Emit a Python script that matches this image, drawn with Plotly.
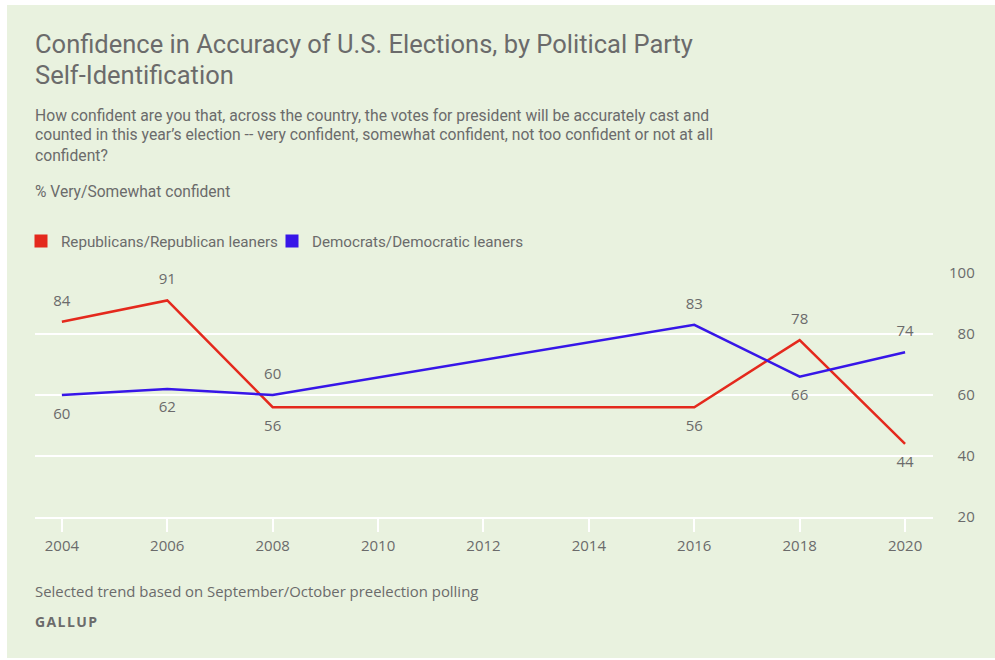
import plotly.graph_objects as go

# Survey years and share "very/somewhat confident" (%) by party
years = [2004, 2006, 2008, 2016, 2018, 2020]
republicans = [84, 91, 56, 56, 78, 44]
democrats = [60, 62, 60, 83, 66, 74]

rep_label_pos = ["top center", "top center", "bottom center", "bottom center", "top center", "bottom center"]
dem_label_pos = ["bottom center", "bottom center", "top center", "top center", "bottom center", "top center"]

x_ticks = list(range(2004, 2021, 2))
y_ticks = [20, 40, 60, 80, 100]
y_tick_text = ["\u200720", "\u200740", "\u200760", "\u200780", "100"]

series_names = ["Republicans/Republican leaners", "Democrats/Democratic leaners"]

RED = "#E4291D"
BLUE = "#3716E8"
BG = "#E9F2DF"
TXT = "#6B6B6B"
TITLE_FONT = "Roboto"
BODY_FONT = "Open Sans"

W, H = 995, 660
L, R, T, B = 35, 62, 273, 143
plot_w = W - L - R
plot_h = H - T - B


def px_x(px):
    return (px - L) / plot_w


def px_y(py):
    return (H - B - py) / plot_h


fig = go.Figure()

for vals, color, pos, name in [
    (republicans, RED, rep_label_pos, series_names[0]),
    (democrats, BLUE, dem_label_pos, series_names[1]),
]:
    fig.add_trace(go.Scatter(
        x=years, y=vals, mode="lines+markers+text",
        line=dict(color=color, width=2.5),
        marker=dict(size=18, color="rgba(0,0,0,0)"),
        text=[str(v) for v in vals], textposition=pos,
        textfont=dict(family=BODY_FONT, size=15, color=TXT),
        cliponaxis=False, showlegend=False, name=name,
    ))

# square swatches for the legend
for color, name in [(RED, series_names[0]), (BLUE, series_names[1])]:
    fig.add_trace(go.Scatter(
        x=[None], y=[None], mode="markers", name=name,
        marker=dict(symbol="square", size=13, color=color),
    ))

annotations = [
    dict(text="Confidence in Accuracy of U.S. Elections, by Political Party",
         x=px_x(33), y=px_y(44), font=dict(family=TITLE_FONT, size=25.5, color=TXT)),
    dict(text="Self-Identification",
         x=px_x(33), y=px_y(75), font=dict(family=TITLE_FONT, size=25.5, color=TXT)),
    dict(text="How confident are you that, across the country, the votes for president will be accurately cast and",
         x=px_x(33), y=px_y(115), font=dict(family=TITLE_FONT, size=15.7, color=TXT)),
    dict(text="counted in this year\u2019s election -- very confident, somewhat confident, not too confident or not at all",
         x=px_x(33), y=px_y(135), font=dict(family=TITLE_FONT, size=15.7, color=TXT)),
    dict(text="confident?",
         x=px_x(33), y=px_y(155), font=dict(family=TITLE_FONT, size=15.7, color=TXT)),
    dict(text="% Very/Somewhat confident",
         x=px_x(33), y=px_y(192), font=dict(family=TITLE_FONT, size=15.6, color=TXT)),
    dict(text="Selected trend based on September/October preelection polling",
         x=px_x(33), y=px_y(591), font=dict(family=BODY_FONT, size=14.9, color=TXT)),
    dict(text="<b>G\u200aA\u200aL\u200aL\u200aU\u200aP</b>",
         x=px_x(33), y=px_y(621), font=dict(family=BODY_FONT, size=14, color=TXT)),
]
for a in annotations:
    a.update(xref="paper", yref="paper", xanchor="left", yanchor="middle",
             showarrow=False, align="left")

fig.update_layout(
    width=W, height=H, autosize=False,
    margin=dict(l=L, r=R, t=T, b=B, pad=0, autoexpand=False),
    paper_bgcolor="white", plot_bgcolor="rgba(0,0,0,0)",
    shapes=[dict(type="rect", xref="paper", yref="paper", layer="below",
                 x0=px_x(7), x1=px_x(W + 5), y0=px_y(H - 2), y1=px_y(5),
                 fillcolor=BG, line=dict(width=0))],
    annotations=annotations,
    showlegend=True,
    legend=dict(orientation="h", x=px_x(21), y=px_y(241), xanchor="left", yanchor="middle",
                bgcolor="rgba(0,0,0,0)", borderwidth=0,
                font=dict(family=TITLE_FONT, size=15.2, color=TXT),
                entrywidth=206, entrywidthmode="pixels"),
    xaxis=dict(range=[2003.49, 2020.53], tickvals=x_ticks, showgrid=False, zeroline=False,
               ticks="outside", ticklen=13, tickwidth=2, tickcolor="white",
               showline=True, linecolor="white", linewidth=2, automargin=False,
               tickfont=dict(family=BODY_FONT, size=15, color=TXT), ticklabelstandoff=1),
    yaxis=dict(range=[20, 100], tickvals=y_ticks, ticktext=y_tick_text, side="right",
               showgrid=True, gridcolor="white", gridwidth=2, zeroline=False, showline=False,
               automargin=False,
               tickfont=dict(family=BODY_FONT, size=15, color=TXT), ticklabelstandoff=15),
    hovermode=False,
)

fig.write_html("out.html")
